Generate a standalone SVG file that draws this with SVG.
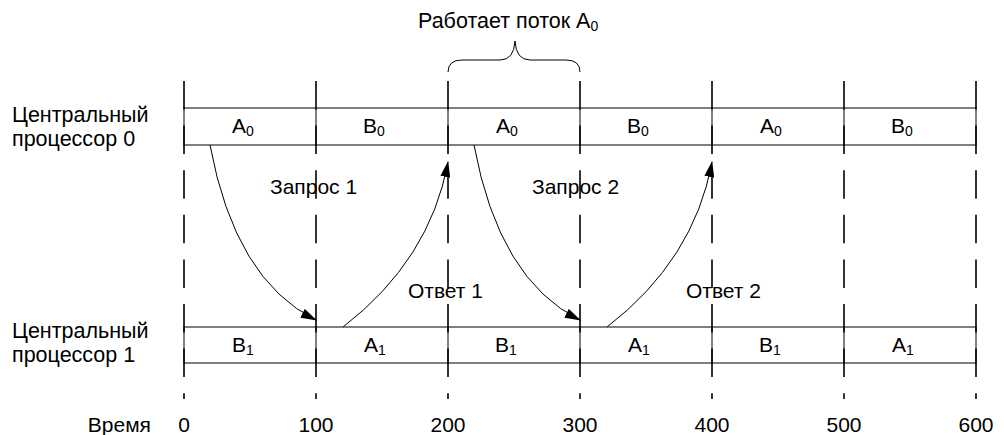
<svg xmlns="http://www.w3.org/2000/svg" width="1004" height="435" viewBox="0 0 1004 435">
<defs>
<style>
text{font-family:"Liberation Sans",Arial,sans-serif;font-size:21px;fill:#000}
.c{text-anchor:middle}
.e{text-anchor:end}
.lbl{font-size:21.5px}
.sub{font-size:14px}
.dash{stroke:#000;stroke-width:1.6;stroke-dasharray:28.5 16.1;fill:none}
.ln{stroke:#000;stroke-width:1;fill:none}
.arr{stroke:#000;stroke-width:1;fill:none;marker-end:url(#ah)}
</style>
<marker id="ah" markerWidth="16" markerHeight="10" refX="15" refY="5" orient="auto" markerUnits="userSpaceOnUse">
<path d="M0,0 L16,5 L0,10 z" fill="#000"/>
</marker>
</defs>
<rect width="1004" height="435" fill="#fff"/>
<g id="grid">
<line class="dash" x1="184" y1="81" x2="184" y2="399"/>
<line class="dash" x1="316" y1="81" x2="316" y2="399"/>
<line class="dash" x1="448" y1="81" x2="448" y2="399"/>
<line class="dash" x1="580" y1="81" x2="580" y2="399"/>
<line class="dash" x1="712" y1="81" x2="712" y2="399"/>
<line class="dash" x1="844" y1="81" x2="844" y2="399"/>
<line class="dash" x1="976" y1="81" x2="976" y2="399"/>
</g>
<g id="cpu0">
<rect class="ln" x="184" y="108" width="792" height="37"/>
<path class="ln" d="M316,108V145M448,108V145M580,108V145M712,108V145M844,108V145"/>
<text x="232" y="133">A<tspan class="sub" dy="3">0</tspan></text>
<text x="363" y="133">B<tspan class="sub" dy="3">0</tspan></text>
<text x="496" y="133">A<tspan class="sub" dy="3">0</tspan></text>
<text x="627" y="133">B<tspan class="sub" dy="3">0</tspan></text>
<text x="760" y="133">A<tspan class="sub" dy="3">0</tspan></text>
<text x="891" y="133">B<tspan class="sub" dy="3">0</tspan></text>
<text class="lbl" x="12" y="122">Центральный</text>
<text class="lbl" x="12" y="146">процессор 0</text>
</g>
<g id="cpu1">
<rect class="ln" x="184" y="327" width="792" height="36"/>
<path class="ln" d="M316,327V363M448,327V363M580,327V363M712,327V363M844,327V363"/>
<text x="232" y="352">B<tspan class="sub" dy="3">1</tspan></text>
<text x="364" y="352">A<tspan class="sub" dy="3">1</tspan></text>
<text x="495" y="352">B<tspan class="sub" dy="3">1</tspan></text>
<text x="628" y="352">A<tspan class="sub" dy="3">1</tspan></text>
<text x="759" y="352">B<tspan class="sub" dy="3">1</tspan></text>
<text x="892" y="352">A<tspan class="sub" dy="3">1</tspan></text>
<text class="lbl" x="12" y="338">Центральный</text>
<text class="lbl" x="12" y="362">процессор 1</text>
</g>
<g id="brace">
<path class="ln" d="M448,72 Q448,60 462,60 H500 Q514,60 515,41 Q516,60 530,60 H566 Q580,60 580,72"/>
<text x="418" y="28" style="font-size:21.5px">Работает поток A<tspan class="sub" dy="3">0</tspan></text>
</g>
<g id="connectors">
<path class="arr" d="M210,145 Q235,280 316,320"/>
<path class="arr" d="M343,327 Q430,260 448,162"/>
<path class="arr" d="M474,145 Q499,280 580,320"/>
<path class="arr" d="M607,327 Q694,260 712,162"/>
</g>
<g id="labels">
<text x="270" y="194">Запрос 1</text>
<text x="532" y="194">Запрос 2</text>
<text x="408" y="298">Ответ 1</text>
<text x="686" y="298">Ответ 2</text>
</g>
<g id="axis">
<text class="e" x="151" y="432">Время</text>
<text class="c" x="184" y="432">0</text>
<text class="c" x="316" y="432">100</text>
<text class="c" x="448" y="432">200</text>
<text class="c" x="580" y="432">300</text>
<text class="c" x="712" y="432">400</text>
<text class="c" x="844" y="432">500</text>
<text class="c" x="976" y="432">600</text>
</g>
</svg>
